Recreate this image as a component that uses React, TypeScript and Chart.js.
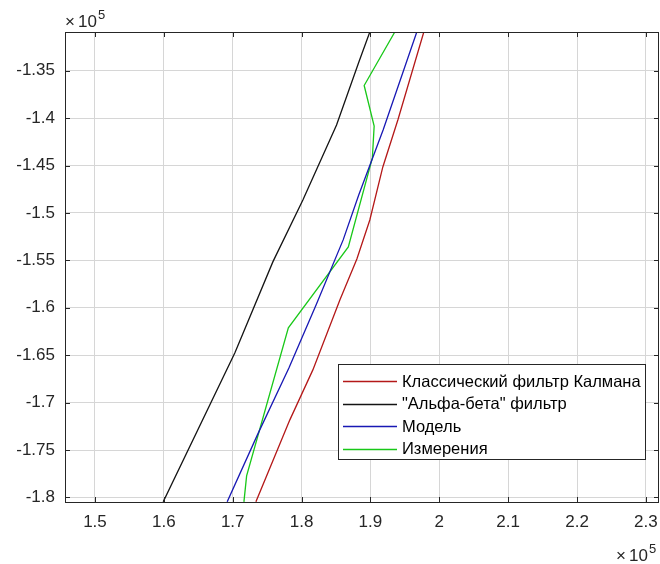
import React, { useEffect, useRef } from "react";
import { Chart, registerables } from "chart.js";

Chart.register(...registerables);

// Axis ranges and ticks (raw units)
const xMin = 145650;
const xMax = 231900;
const yMin = -180480;
const yMax = -130920;
const xTicks = [150000, 160000, 170000, 180000, 190000, 200000, 210000, 220000, 230000];
const yTicks = [-135000, -140000, -145000, -150000, -155000, -160000, -165000, -170000, -175000, -180000];

// Series labels and colours
const seriesLabels = [
  "Классический фильтр Калмана",
  "\"Альфа-бета\" фильтр",
  "Модель",
  "Измерения",
];
const seriesColors = ["#b41818", "#141414", "#1818b4", "#18c818"];

// Classical Kalman filter
const kalmanX = [197750, 193980, 191800, 189910, 188030, 185560, 181640, 178300, 173370];
const kalmanY = [-130920, -140200, -145150, -150740, -154850, -159170, -166550, -171820, -180460];

// Alpha-beta filter
const abX = [189910, 188320, 185080, 180190, 175830, 170320, 159910];
const abY = [-130920, -134080, -140720, -148630, -155160, -164750, -180460];

// Model
const modelX = [196730, 191840, 188300, 186040, 182120, 178160, 173590, 169200];
const modelY = [-130920, -141250, -148100, -152840, -159690, -166340, -173400, -180460];

// Measurements
const measX = [193540, 189090, 190540, 190280, 186790, 178080, 172020, 171630];
const measY = [-130920, -136560, -140830, -144200, -153580, -162120, -177720, -180460];

const FONT = "'Liberation Sans', Arial, Helvetica, sans-serif";
const AXIS_COLOR = "#262626";

const zip = (xs: number[], ys: number[]) => xs.map((x, i) => ({ x, y: ys[i] }));

const framePlugin = {
  id: "matlabFrame",
  afterDatasetsDraw(chart: any) {
    const { ctx, chartArea } = chart;
    const { left, right, top, bottom } = chartArea;
    const xs = chart.scales.x;
    const ys = chart.scales.y;
    ctx.save();
    ctx.strokeStyle = AXIS_COLOR;
    ctx.lineWidth = 1;
    // inward ticks
    const tl = 5;
    ctx.beginPath();
    xTicks.forEach((v) => {
      const px = Math.round(xs.getPixelForValue(v)) + 0.5;
      ctx.moveTo(px, bottom);
      ctx.lineTo(px, bottom - tl);
      ctx.moveTo(px, top);
      ctx.lineTo(px, top + tl);
    });
    yTicks.forEach((v) => {
      const py = Math.round(ys.getPixelForValue(v)) + 0.5;
      ctx.moveTo(left, py);
      ctx.lineTo(left + tl, py);
      ctx.moveTo(right, py);
      ctx.lineTo(right - tl, py);
    });
    ctx.stroke();
    // frame
    ctx.strokeRect(Math.round(left) + 0.5, Math.round(top) + 0.5, Math.round(right - left) - 1, Math.round(bottom - top));
    // exponent labels
    ctx.fillStyle = AXIS_COLOR;
    ctx.textBaseline = "alphabetic";
    ctx.textAlign = "left";
    const drawExp = (x: number, y: number) => {
      ctx.font = `17px ${FONT}`;
      ctx.fillText("×", x, y);
      ctx.fillText("10", x + 13, y);
      ctx.font = `13px ${FONT}`;
      ctx.fillText("5", x + 33, y - 8);
    };
    drawExp(65, 27);
    drawExp(616, 561);

    // legend
    const lx = 338.5, ly = 364.5, lw = 307, lh = 95;
    ctx.fillStyle = "#ffffff";
    ctx.fillRect(lx, ly, lw, lh);
    ctx.strokeStyle = AXIS_COLOR;
    ctx.strokeRect(lx, ly, lw, lh);
    ctx.font = `16.5px ${FONT}`;
    ctx.textBaseline = "middle";
    chart.data.datasets.forEach((ds: any, i: number) => {
      const cy = 381 + i * 22.6;
      ctx.strokeStyle = ds.borderColor;
      ctx.lineWidth = 1.3;
      ctx.beginPath();
      ctx.moveTo(343, Math.round(cy) + 0.5);
      ctx.lineTo(397, Math.round(cy) + 0.5);
      ctx.stroke();
      ctx.fillStyle = "#000000";
      ctx.fillText(ds.label, 402, cy + 1);
    });
    ctx.restore();
  },
};

export default function App() {
  const canvasRef = useRef<HTMLCanvasElement | null>(null);

  useEffect(() => {
    document.body.style.margin = "0";
    const canvas = canvasRef.current;
    if (!canvas) return;
    const datasets = [
      { xs: kalmanX, ys: kalmanY },
      { xs: abX, ys: abY },
      { xs: modelX, ys: modelY },
      { xs: measX, ys: measY },
    ].map((s, i) => ({
      label: seriesLabels[i],
      data: zip(s.xs, s.ys),
      borderColor: seriesColors[i],
      backgroundColor: seriesColors[i],
      borderWidth: 1.3,
      pointRadius: 0,
      tension: 0,
      fill: false,
    }));

    const chart = new Chart(canvas, {
      type: "line",
      data: { datasets },
      options: {
        animation: false,
        responsive: false,
        devicePixelRatio: 1,
        layout: { padding: { top: 32, right: 1, left: 0, bottom: 0 } },
        plugins: {
          legend: { display: false },
          tooltip: { enabled: false },
        },
        scales: {
          x: {
            type: "linear",
            min: xMin,
            max: xMax,
            afterBuildTicks: (scale: any) => {
              scale.ticks = xTicks.map((v) => ({ value: v }));
            },
            afterFit: (scale: any) => {
              scale.height = 62;
              scale.paddingLeft = 0;
              scale.paddingRight = 0;
            },
            grid: { color: "#d6d6d6", drawTicks: false, lineWidth: 1 },
            border: { display: false },
            ticks: {
              padding: 10,
              color: AXIS_COLOR,
              font: { size: 17, family: FONT },
              maxRotation: 0,
              autoSkip: false,
              callback: (v: any) => String(Math.round(Number(v) / 1e4) / 10),
            },
          },
          y: {
            type: "linear",
            min: yMin,
            max: yMax,
            afterBuildTicks: (scale: any) => {
              scale.ticks = yTicks.map((v) => ({ value: v }));
            },
            afterFit: (scale: any) => {
              scale.width = 65;
              scale.paddingTop = 0;
              scale.paddingBottom = 0;
            },
            grid: { color: "#d6d6d6", drawTicks: false, lineWidth: 1 },
            border: { display: false },
            ticks: {
              padding: 10,
              color: AXIS_COLOR,
              font: { size: 17, family: FONT },
              autoSkip: false,
              callback: (v: any) => String(Math.round(Number(v) / 1e3) / 100),
            },
          },
        },
      },
      plugins: [framePlugin],
    });
    return () => chart.destroy();
  }, []);

  return (
    <div style={{ position: "absolute", left: 0, top: 0, width: 660, height: 564, background: "#fff" }}>
      <canvas ref={canvasRef} width={660} height={564} style={{ display: "block" }} />
    </div>
  );
}
